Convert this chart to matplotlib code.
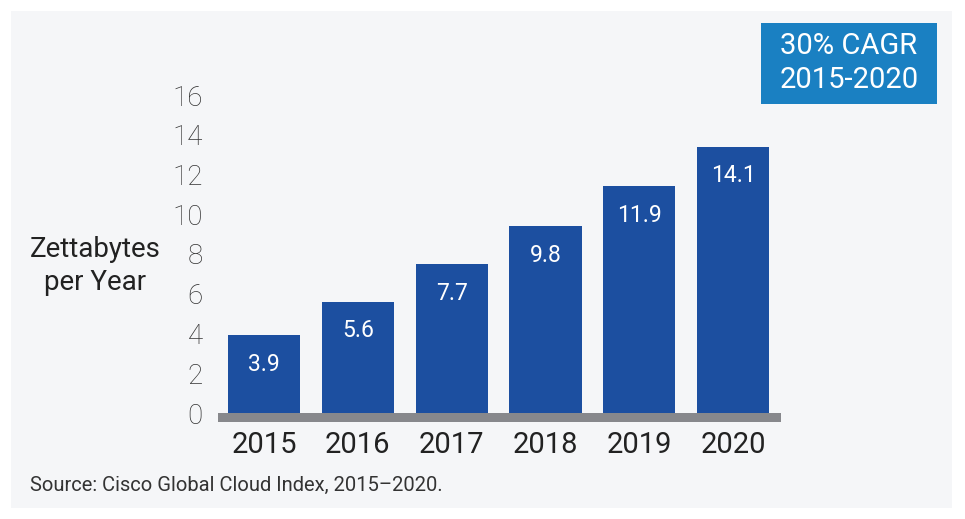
import matplotlib
matplotlib.use("Agg")
import matplotlib.pyplot as plt
from matplotlib.patches import Rectangle

years = ["2015", "2016", "2017", "2018", "2019", "2020"]
bar_heights = [3.9, 5.6, 7.5, 9.4, 11.4, 13.4]
bar_labels = ["3.9", "5.6", "7.7", "9.8", "11.9", "14.1"]
y_ticks = [0, 2, 4, 6, 8, 10, 12, 14, 16]

W, H = 965, 519
fig = plt.figure(figsize=(W / 100, H / 100), dpi=100)
fig.patch.set_facecolor("white")

def fx(px):
    return px / W

def fy(py):
    return 1 - py / H

# light panel
fig.patches.append(Rectangle((fx(11), fy(508)), fx(941), 497 / H,
                             transform=fig.transFigure, facecolor="#f5f6f8",
                             edgecolor="none", zorder=-5))

ax = fig.add_axes([fx(218), fy(413), fx(563), 318 / H])
ax.set_zorder(2)
ax.set_facecolor("none")
x = list(range(len(years)))
bars = ax.bar(x, bar_heights, width=0.77, color="#1c4fa0", zorder=2)
ax.set_xlim(-0.49, 5.51)
ax.set_ylim(0, 16)
for s in ax.spines.values():
    s.set_visible(False)

ax.set_yticks(y_ticks)
ax.set_yticklabels([str(v) for v in y_ticks])
ax.tick_params(axis="y", length=0, pad=11, labelsize=20, labelcolor="#333333")
for lab in ax.get_yticklabels():
    lab.set_fontfamily("Roboto")
    lab.set_fontweight("light")

ax.set_xticks(x)
ax.set_xticklabels(years)
ax.tick_params(axis="x", length=0, pad=13, labelsize=21, labelcolor="#222222")
for lab in ax.get_xticklabels():
    lab.set_fontfamily("Roboto")
    lab.set_fontweight("normal")

# baseline bar
ax.add_patch(Rectangle((0, -9 / 318), 1, 9 / 318, transform=ax.transAxes,
                       facecolor="#87888c", edgecolor="none", clip_on=False, zorder=3))

for rect, lab in zip(bars, bar_labels):
    ax.annotate(lab, (rect.get_x() + rect.get_width() / 2, rect.get_height()),
                xytext=(0, -21), textcoords="offset points", ha="center", va="center",
                color="white", fontsize=16.5, family="Roboto")

fig.text(fx(95), fy(250), "Zettabytes", ha="center", va="center", fontsize=20,
         family="Roboto", color="#222222")
fig.text(fx(95), fy(283), "per Year", ha="center", va="center", fontsize=20,
         family="Roboto", color="#222222")

fig.text(fx(30), fy(485), "Source: Cisco Global Cloud Index, 2015\u20132020.", ha="left",
         va="center", fontsize=14.5, family="Roboto", color="#333333")

# CAGR box
fig.patches.append(Rectangle((fx(761), fy(104)), fx(176), 81 / H, transform=fig.transFigure,
                             facecolor="#1a80c2", edgecolor="none", zorder=1))
fig.text(fx(849), fy(46), "30% CAGR", ha="center", va="center", fontsize=21,
         family="Roboto", color="white", zorder=2)
fig.text(fx(849), fy(80), "2015-2020", ha="center", va="center", fontsize=21,
         family="Roboto", color="white", zorder=2)

fig.savefig("out.png", dpi=100, facecolor=fig.get_facecolor())
